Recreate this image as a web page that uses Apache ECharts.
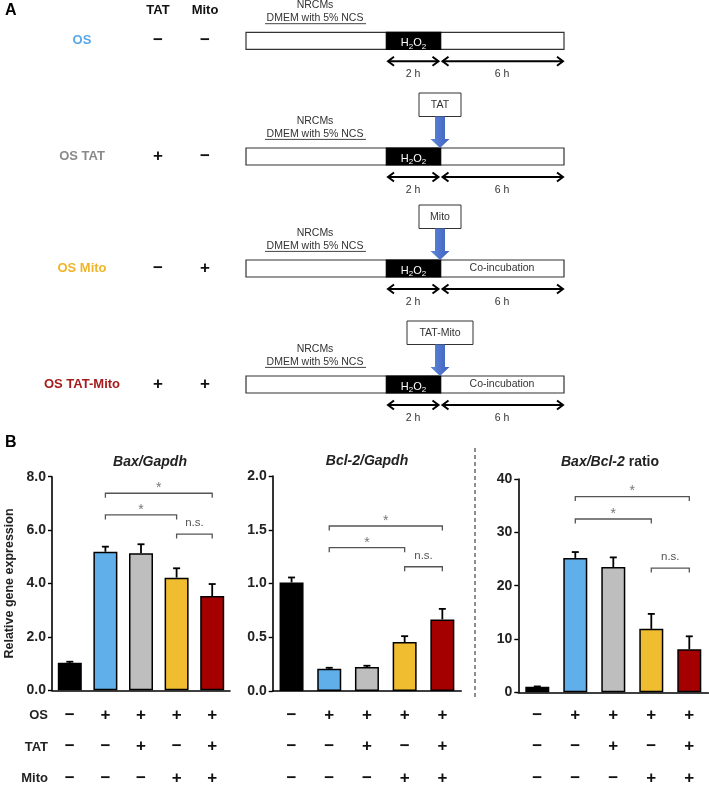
<!DOCTYPE html>
<html><head><meta charset="utf-8">
<script src="https://cdn.jsdelivr.net/npm/echarts@6/dist/echarts.min.js"></script>
<style>html,body{margin:0;padding:0;background:#fff}#c{width:709px;height:785px}</style>
</head><body><div id="c"></div>
<script>
// ---------------- data ----------------
const categories = ['Control', 'OS', 'OS TAT', 'OS Mito', 'OS TAT-Mito'];
const osSigns = ['−', '+', '+', '+', '+'];
const tatSigns = ['−', '−', '+', '−', '+'];
const mitoSigns = ['−', '−', '−', '+', '+'];
const barColors = ['#000000', '#60aeea', '#bebebe', '#f0bd30', '#a50000'];

const baxMean = [1.03, 5.19, 5.13, 4.22, 3.53];
const baxUpper = [1.07, 5.38, 5.47, 4.57, 3.98];
const bcl2Mean = [1.01, 0.207, 0.223, 0.455, 0.666];
const bcl2Upper = [1.056, 0.216, 0.235, 0.51, 0.764];
const ratioMean = [1.05, 25.2, 23.5, 11.9, 8.07];
const ratioUpper = [1.1, 26.3, 25.3, 14.7, 10.5];

// brackets: [fromIndex, toIndex, height, label]
const baxBrackets = [[1, 4, 7.38, '*'], [1, 3, 6.57, '*'], [3, 4, 5.85, 'n.s.']];
const bcl2Brackets = [[1, 4, 1.535, '*'], [1, 3, 1.333, '*'], [3, 4, 1.156, 'n.s.']];
const ratioBrackets = [[1, 4, 36.7, '*'], [1, 3, 32.5, '*'], [3, 4, 23.3, 'n.s.']];

// axis ticks: [min, max, interval, decimals]
const baxTicks = [0, 8, 2, 1];
const bcl2Ticks = [0, 2, 0.5, 1];
const ratioTicks = [0, 40, 10, 0];

// panel A
const rowLabels = ['OS', 'OS TAT', 'OS Mito', 'OS TAT-Mito'];
const rowColors = ['#5ba8e8', '#8a8a8a', '#efb52b', '#a51c1c'];
const rowTat = ['−', '+', '−', '+'];
const rowMito = ['−', '−', '+', '+'];
const rowAgent = [null, 'TAT', 'Mito', 'TAT-Mito'];
const rowAfter = ['', '', 'Co-incubation', 'Co-incubation'];

// ---------------- layout ----------------
const FF = '"Liberation Sans", Arial, sans-serif';
const rowTop = [32.3, 148, 260, 376];
const grids = [
  {left: 52, top: 476.7, width: 178, height: 213.6},
  {left: 272.7, top: 476, width: 188.5, height: 215},
  {left: 518.3, top: 479, width: 190, height: 213.3}
];

const g = [];
function T(text, x, y, o) {
  o = o || {};
  const st = Object.assign({
    text: text, x: x, y: y, fill: '#222', fontFamily: FF, fontSize: 12, fontWeight: 'normal',
    textAlign: 'center', textVerticalAlign: 'middle', align: 'center', verticalAlign: 'middle'
  }, o);
  if (o.textAlign) st.align = o.textAlign;
  g.push({type: 'text', z: 10, style: st});
}
function L(x1, y1, x2, y2, o) {
  g.push({type: 'line', z: 9, shape: {x1, y1, x2, y2}, style: Object.assign({stroke: '#000', lineWidth: 1.2}, o || {})});
}
function P(points, o, type) {
  g.push({type: type || 'polyline', z: 9, shape: {points}, style: Object.assign({stroke: '#000', lineWidth: 2, fill: null}, o || {})});
}
function R(x, y, w, h, o) {
  g.push({type: 'rect', z: 8, shape: {x, y, width: w, height: h}, style: Object.assign({stroke: '#333', lineWidth: 1.2, fill: '#fff'}, o || {})});
}

// Panel labels
T('A', 5, 11, {textAlign: 'left', fontSize: 16, fontWeight: 'bold', fill: '#000'});
T('B', 5, 443, {textAlign: 'left', fontSize: 16, fontWeight: 'bold', fill: '#000'});
T('TAT', 158, 10, {fontSize: 13, fontWeight: 'bold', fill: '#111'});
T('Mito', 205, 10, {fontSize: 13, fontWeight: 'bold', fill: '#111'});

const small = {fontSize: 10.5, fill: '#333'};
rowLabels.forEach((lab, i) => {
  const t = rowTop[i];
  const cy = t + 8.5;
  T(lab, 82, cy, {fontSize: 13, fontWeight: 'bold', fill: rowColors[i]});
  T(rowTat[i], 158, cy, {fontSize: 17, fontWeight: 'bold', fill: '#111'});
  T(rowMito[i], 205, cy, {fontSize: 17, fontWeight: 'bold', fill: '#111'});
  T('NRCMs', 315, t - 27, small);
  T('DMEM with 5% NCS', 315, t - 14, small);
  L(265, t - 8.6, 366, t - 8.6, {stroke: '#444', lineWidth: 1});
  R(246, t, 318, 17);
  R(386.3, t, 54.4, 17, {fill: '#000', stroke: '#000'});
  g.push({type: 'text', z: 10, style: {
    text: '{a|H}{s|2}{a|O}{s|2}', x: 413.5, y: t + 9, align: 'center', verticalAlign: 'middle',
    textAlign: 'center', textVerticalAlign: 'middle',
    rich: {a: {fontSize: 11, fill: '#fff', fontFamily: FF, lineHeight: 14, verticalAlign: 'bottom'},
           s: {fontSize: 8, fill: '#fff', fontFamily: FF, lineHeight: 11, verticalAlign: 'bottom', padding: [0, 0, -2, 0]}}
  }});
  if (rowAfter[i]) T(rowAfter[i], 502, t + 8.5, {fontSize: 10.5, fill: '#333'});
  // double arrows
  const ay = t + 29;
  L(388, ay, 438.5, ay, {lineWidth: 2});
  P([[394, ay - 4.5], [388, ay], [394, ay + 4.5]]);
  P([[432.5, ay - 4.5], [438.5, ay], [432.5, ay + 4.5]]);
  L(442.5, ay, 563, ay, {lineWidth: 2});
  P([[448.5, ay - 4.5], [442.5, ay], [448.5, ay + 4.5]]);
  P([[557, ay - 4.5], [563, ay], [557, ay + 4.5]]);
  T('2 h', 413, t + 42, small);
  T('6 h', 502, t + 42, small);
  if (rowAgent[i]) {
    const w = rowAgent[i].length > 5 ? 66 : 42;
    R(440 - w / 2, t - 55, w, 23.5, {lineWidth: 1});
    T(rowAgent[i], 440, t - 43, small);
    g.push({type: 'polygon', z: 9, shape: {points: [
      [435, t - 31.5], [445, t - 31.5], [445, t - 9], [449.5, t - 9], [440, t], [430.5, t - 9], [435, t - 9]
    ]}, style: {fill: new echarts.graphic.LinearGradient(0, 0, 1, 0, [
      {offset: 0, color: '#5f86d8'}, {offset: 1, color: '#3d62c0'}]), stroke: null}});
  }
});

// Panel B extras
L(475, 448, 475, 698, {stroke: '#444', lineWidth: 1.2, lineDash: [4, 3]});
const titleRich = {
  i: {fontSize: 14, fontWeight: 'bold', fontStyle: 'italic', fill: '#222', fontFamily: FF},
  n: {fontSize: 14, fontWeight: 'bold', fill: '#222', fontFamily: FF}
};
function RT(text, x, y) {
  g.push({type: 'text', z: 10, style: {text, x, y, align: 'center', verticalAlign: 'middle',
    textAlign: 'center', textVerticalAlign: 'middle', rich: titleRich}});
}
RT('{i|Bax/Gapdh}', 150, 462);
RT('{i|Bcl-2/Gapdh}', 367, 461);
RT('{i|Bax/Bcl-2}{n| ratio}', 610, 462);
T('OS', 48, 715, {textAlign: 'right', fontSize: 13, fontWeight: 'bold', fill: '#222'});
T('TAT', 48, 747, {textAlign: 'right', fontSize: 13, fontWeight: 'bold', fill: '#222'});
T('Mito', 48, 778, {textAlign: 'right', fontSize: 13, fontWeight: 'bold', fill: '#222'});

// ---------------- charts ----------------
function errRender(params, api) {
  const x = api.value(0), m = api.value(1), u = api.value(2);
  const p0 = api.coord([x, m]), p1 = api.coord([x, u]);
  return {type: 'group', children: [
    {type: 'line', shape: {x1: p0[0], y1: p0[1], x2: p1[0], y2: p1[1]}, style: {stroke: '#000', lineWidth: 1.8}},
    {type: 'line', shape: {x1: p1[0] - 3.5, y1: p1[1], x2: p1[0] + 3.5, y2: p1[1]}, style: {stroke: '#000', lineWidth: 1.8}}
  ]};
}
function makeBracket(arr) {
  return function (params, api) {
    const a = api.coord([api.value(0), api.value(2)]);
    const b = api.coord([api.value(1), api.value(2)]);
    const lab = arr[params.dataIndex][3];
    const star = lab === '*';
    return {type: 'group', children: [
      {type: 'polyline', shape: {points: [[a[0], a[1] + 4.5], [a[0], a[1]], [b[0], b[1]], [b[0], b[1] + 4.5]]},
        style: {stroke: '#555', lineWidth: 1.3, fill: null}},
      {type: 'text', style: {text: lab, x: (a[0] + b[0]) / 2, y: star ? a[1] - 5 : a[1] - 11,
        align: 'center', verticalAlign: 'middle', textAlign: 'center', textVerticalAlign: 'middle',
        fontSize: star ? 14 : 11.5, fill: star ? '#777' : '#555', fontFamily: FF}}
    ]};
  };
}

const sets = [
  {mean: baxMean, up: baxUpper, br: baxBrackets, ticks: baxTicks, margin: 9, name: 'Relative gene expression'},
  {mean: bcl2Mean, up: bcl2Upper, br: bcl2Brackets, ticks: bcl2Ticks, margin: 8.3, name: ''},
  {mean: ratioMean, up: ratioUpper, br: ratioBrackets, ticks: ratioTicks, margin: 7, name: ''}
];

const option = {
  animation: false,
  backgroundColor: '#fff',
  grid: grids.map(gr => Object.assign({containLabel: false, outerBoundsMode: 'none'}, gr)),
  xAxis: sets.map((s, k) => ({
    type: 'category', gridIndex: k, data: categories,
    axisTick: {show: false},
    axisLine: {lineStyle: {color: '#000', width: 1.6}},
    axisLabel: {
      interval: 0, margin: s.margin, fontSize: 17, fontWeight: 'bold', color: '#111', lineHeight: 31.5,
      fontFamily: FF,
      formatter: (v, i) => osSigns[i] + '\n' + tatSigns[i] + '\n' + mitoSigns[i]
    }
  })),
  yAxis: sets.map((s, k) => ({
    type: 'value', gridIndex: k, min: s.ticks[0], max: s.ticks[1], interval: s.ticks[2],
    splitLine: {show: false},
    axisLine: {show: true, lineStyle: {color: '#000', width: 1.6}},
    axisTick: {show: true, length: 4, lineStyle: {color: '#000', width: 1.4}},
    axisLabel: {fontSize: 14, fontWeight: 'bold', color: '#222', margin: 6, fontFamily: FF,
      formatter: v => v.toFixed(s.ticks[3])},
    name: s.name, nameLocation: 'middle', nameGap: 36,
    nameTextStyle: {fontSize: 12.5, fontWeight: 'bold', color: '#222', fontFamily: FF}
  })),
  series: []
};
sets.forEach((s, k) => {
  option.series.push({
    type: 'bar', xAxisIndex: k, yAxisIndex: k, barWidth: 24,
    data: s.mean.map((v, i) => ({value: v, itemStyle: {color: barColors[i]}})),
    itemStyle: {borderColor: '#000', borderWidth: 1.5}
  });
  option.series.push({
    type: 'custom', xAxisIndex: k, yAxisIndex: k, z: 5,
    renderItem: errRender, encode: {x: 0, y: [1, 2]},
    data: s.mean.map((v, i) => [i, v, s.up[i]])
  });
  option.series.push({
    type: 'custom', xAxisIndex: k, yAxisIndex: k, z: 5,
    renderItem: makeBracket(s.br), encode: {x: [0, 1], y: 2},
    data: s.br.map(b => [b[0], b[1], b[2]])
  });
});
option.graphic = {elements: g};

const chart = echarts.init(document.getElementById('c'), null, {renderer: 'canvas'});
chart.setOption(option);
</script>
</body></html>
